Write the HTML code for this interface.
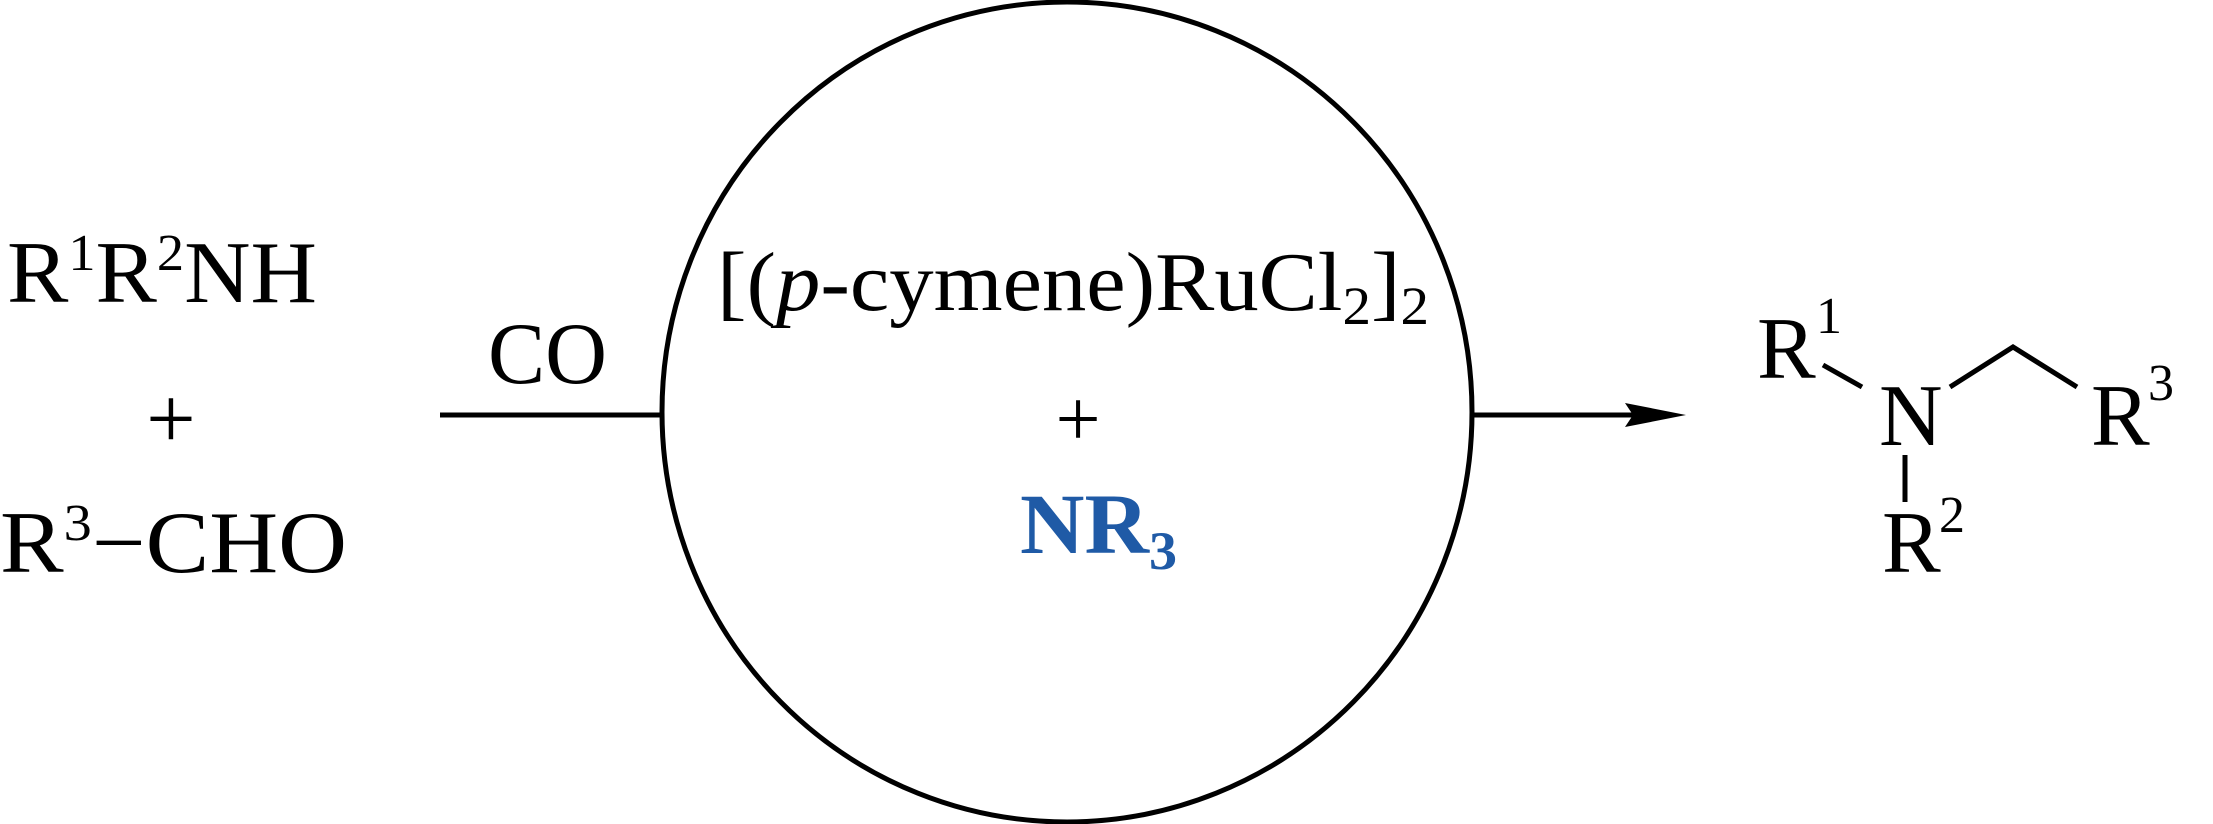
<!DOCTYPE html>
<html><head><meta charset="utf-8"><style>
html,body{margin:0;padding:0;background:#fff;}
svg{display:block;}
svg text{font-family:"Liberation Serif","Times New Roman",Times,serif;fill:#000;}
</style></head><body>
<svg width="2213" height="824" viewBox="0 0 2213 824" xmlns="http://www.w3.org/2000/svg" font-family="Liberation Serif, Times New Roman, Times, serif">
<ellipse cx="1067" cy="412" rx="405" ry="410" fill="none" stroke="#000" stroke-width="5"/>
<line x1="440" y1="415" x2="662" y2="415" stroke="#000" stroke-width="5"/>
<line x1="1473" y1="415" x2="1640" y2="415" stroke="#000" stroke-width="5"/>
<polygon points="1686,415 1625,403 1633,415 1625,427" fill="#000"/>
<!-- left -->
<text x="7" y="302" font-size="88" textLength="310" lengthAdjust="spacingAndGlyphs">R<tspan font-size="52" dy="-32">1</tspan><tspan dy="32">R</tspan><tspan font-size="52" dy="-32">2</tspan><tspan dy="32">NH</tspan></text>
<text x="171" y="448" font-size="88" text-anchor="middle">+</text>
<text x="0" y="572" font-size="88" textLength="347" lengthAdjust="spacingAndGlyphs">R<tspan font-size="52" dy="-32">3</tspan><tspan dy="32">−CHO</tspan></text>
<text x="488" y="383" font-size="88" textLength="119" lengthAdjust="spacingAndGlyphs">CO</text>
<!-- catalyst -->
<text x="717" y="310" font-size="84" textLength="712" lengthAdjust="spacingAndGlyphs">[(<tspan font-style="italic">p</tspan>-cymene)RuCl<tspan font-size="54" dy="14">2</tspan><tspan dy="-14">]</tspan><tspan font-size="54" dy="14">2</tspan></text>
<text x="1078" y="446" font-size="80" text-anchor="middle">+</text>
<text x="1020" y="553" font-size="86" font-weight="bold" style="fill:#1f5aa6" textLength="157" lengthAdjust="spacingAndGlyphs">NR<tspan font-size="54" dy="16">3</tspan></text>
<!-- product -->
<text x="1757" y="378" font-size="88">R</text>
<text x="1816" y="333" font-size="52">1</text>
<line x1="1823" y1="365" x2="1862" y2="387" stroke="#000" stroke-width="5"/>
<text x="1879" y="445" font-size="88">N</text>
<polyline points="1950,387 2013,347 2077,387" fill="none" stroke="#000" stroke-width="5"/>
<text x="2091" y="445" font-size="88">R</text>
<text x="2148" y="400" font-size="52">3</text>
<line x1="1905" y1="455" x2="1905" y2="502" stroke="#000" stroke-width="5"/>
<text x="1882" y="572" font-size="88">R</text>
<text x="1939" y="532" font-size="52">2</text>
</svg>
</body></html>
